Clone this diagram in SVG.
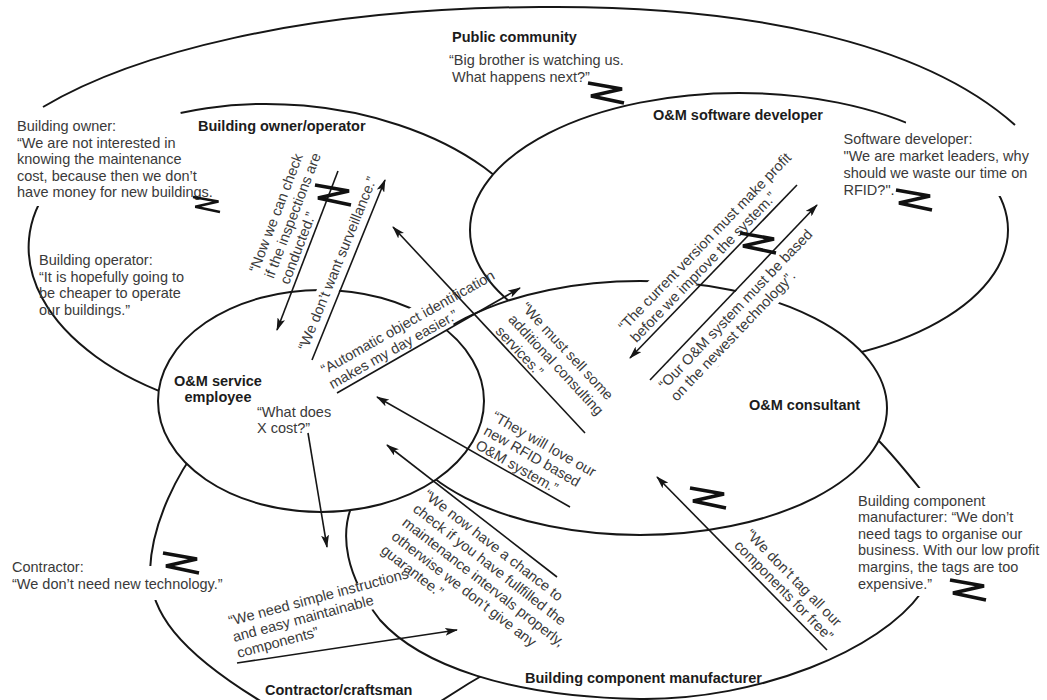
<svg xmlns="http://www.w3.org/2000/svg" width="1047" height="700" viewBox="0 0 1047 700">
<style>
.ell{fill:#fff;stroke:#161616;stroke-width:2}
.open{fill:none;stroke:#161616;stroke-width:2}
text{font-family:"Liberation Sans",Arial,Helvetica,sans-serif;font-size:14.5px}
.q{fill:#3a3a3a}
.lbl{fill:#1c1c1c;font-weight:bold}
.arr{fill:none;stroke:#161616;stroke-width:1.6;marker-end:url(#ah)}
.z{fill:none;stroke:#111;stroke-width:3.6}
</style>
<defs>
<marker id="ah" viewBox="0 0 13 8" refX="12" refY="4" markerWidth="13" markerHeight="8" markerUnits="userSpaceOnUse" orient="auto"><path d="M0,0 L13,4 L0,8 L3,4 Z" fill="#161616"/></marker>
<polyline id="zz" class="z" points="0,0 34,6 3,13 36,20"/>
<mask id="gaps" maskUnits="userSpaceOnUse" x="0" y="0" width="1047" height="700">
<rect width="1047" height="700" fill="#fff"/>
<g fill="#000">
<polygon points="0,92 176,92 183,124 226,124 226,206 0,206"/>
<polygon points="835,138 903,138 908,112 1047,112 1047,196 985,196 985,215 835,215"/>
<polygon points="413.1,348.9 454.1,325.8 435.9,293.6 394.9,316.7"/>
<polygon points="333.7,304 352.5,257.6 333,249.7 314.2,296.1"/>
<polygon points="634.7,348.7 825.6,151 799,125.3 608.1,323"/>
<polygon points="649.3,382.1 837,185.5 865.2,212.4 677.5,409"/>
<polygon points="236.9,663.5 326.7,639.4 322.3,623 418.9,597.1 411.4,569.1 225,619.1"/>
<rect x="0" y="566" width="240" height="34"/>
<rect x="852" y="488" width="195" height="108"/>
</g>
</mask>
</defs>
<rect width="1047" height="700" fill="#fff"/>

<g id="public-community">
<path class="open" d="M43,107 C130,55 300,8 540,7 C740,5 920,40 1015,125"/>
<text class="lbl" x="452" y="42">Public community</text>
<text class="q"><tspan x="449" y="65">“Big brother is watching us.</tspan><tspan x="452" y="82">What happens next?”</tspan></text>
</g>

<g id="building-owner-operator">
<g mask="url(#gaps)"><ellipse class="ell" cx="290" cy="262" rx="262" ry="157" transform="rotate(5 290 262)"/></g>
<text class="lbl" x="198" y="131">Building owner/operator</text>
<text class="q"><tspan x="17" y="131">Building owner:</tspan><tspan x="17" y="147.5">“We are not interested in</tspan><tspan x="17" y="164">knowing the maintenance</tspan><tspan x="17" y="180.5">cost, because then we don’t</tspan><tspan x="17" y="197">have money for new buildings.</tspan></text>
<text class="q"><tspan x="39" y="265">Building operator:</tspan><tspan x="39" y="281.5">“It is hopefully going to</tspan><tspan x="39" y="298">be cheaper to operate</tspan><tspan x="39" y="314.5">our buildings.”</tspan></text>
</g>

<g id="software-developer">
<g mask="url(#gaps)"><ellipse class="ell" cx="739" cy="230" rx="269" ry="137"/></g>
<text class="lbl" x="653" y="120">O&amp;M software developer</text>
<text class="q"><tspan x="843.5" y="143.5">Software developer:</tspan><tspan x="843.5" y="160.5">"We are market leaders, why</tspan><tspan x="843.5" y="177.5">should we waste our time on</tspan><tspan x="843.5" y="194.5">RFID?".</tspan></text>
</g>

<g id="contractor-craftsman">
<g mask="url(#gaps)"><path class="open" d="M200,445 C180,470 152,520 150,570 C150,610 175,650 267,705 M425,712 C445,698 465,685 495,668"/></g>
<text class="lbl" x="265" y="695">Contractor/craftsman</text>
<text class="q"><tspan x="12" y="572">Contractor:</tspan><tspan x="12" y="588.5">“We don’t need new technology.”</tspan></text>
</g>

<g id="component-manufacturer">
<g mask="url(#gaps)"><path class="ell" d="M352,505 C340,535 345,575 380,620 C420,665 510,697 640,699 C760,700 880,650 921,593 C945,560 945,520 921,490 C905,470 893,455 878,440 C800,440 600,450 460,468 C420,475 380,490 352,505 Z"/></g>
<text class="lbl" x="525" y="683">Building component manufacturer</text>
<text class="q"><tspan x="858" y="505.5">Building component</tspan><tspan x="858" y="522.1">manufacturer: “We don’t</tspan><tspan x="858" y="538.7">need tags to organise our</tspan><tspan x="858" y="555.3">business. With our low profit</tspan><tspan x="858" y="571.9">margins, the tags are too</tspan><tspan x="858" y="588.5">expensive.”</tspan></text>
</g>

<g id="consultant">
<g mask="url(#gaps)"><ellipse class="ell" cx="640" cy="408" rx="247" ry="127"/></g>
<text class="lbl" x="749" y="410">O&amp;M consultant</text>
</g>

<g id="service-employee">
<g mask="url(#gaps)"><ellipse class="ell" cx="321" cy="401" rx="163" ry="111"/></g>
<text class="lbl" text-anchor="middle"><tspan x="218" y="386">O&amp;M service</tspan><tspan x="218" y="402">employee</tspan></text>
<text class="q"><tspan x="257" y="417">“What does</tspan><tspan x="257" y="433">X cost?”</tspan></text>
</g>

<g id="connectors">
<path class="arr" d="M338,171 L277,330"/>
<path class="arr" d="M312,360 L385,180"/>
<path class="arr" d="M337,393 L520,288"/>
<path class="arr" d="M585,433 L393,227"/>
<path class="arr" d="M570,507 L377,397"/>
<path class="arr" d="M557,577 L387,445"/>
<path class="arr" d="M308,433 L327,547"/>
<path class="arr" d="M237,663 L457,630"/>
<path class="arr" d="M797,185 L630,358"/>
<path class="arr" d="M650,380 L817,205"/>
<path class="arr" d="M827,650 L657,477"/>
<text class="q" transform="translate(258,273.4) rotate(-69)"><tspan x="0" y="0">“Now we can check</tspan><tspan x="0" dy="16.5">if the inspections are</tspan><tspan x="0" dy="16.5">conducted.”</tspan></text>
<text class="q" transform="translate(307,351.4) rotate(-67.9)">“We don’t want surveillance.”</text>
<text class="q" transform="translate(324.5,374.8) rotate(-29.4)"><tspan x="0" y="0">“Automatic object identification</tspan><tspan x="0" dy="16.5">makes my day easier.”</tspan></text>
<text class="q" transform="translate(520.4,308) rotate(47)"><tspan x="0" y="0">“We must sell some</tspan><tspan x="0" dy="17.5">additional consulting</tspan><tspan x="0" dy="17.5">services.”</tspan></text>
<text class="q" transform="translate(490.9,419.3) rotate(29.7)"><tspan x="0" y="0">“They will love our</tspan><tspan x="0" dy="16.5">new RFID based</tspan><tspan x="0" dy="16.5">O&amp;M system.”</tspan></text>
<text class="q" transform="translate(422.8,496.8) rotate(37.8)"><tspan x="0" y="0">“We now have a chance to</tspan><tspan x="0" dy="17.5">check if you have fullfilled the</tspan><tspan x="0" dy="17.5">maintenance intervals properly,</tspan><tspan x="0" dy="17.5">otherwise we don’t give any</tspan><tspan x="0" dy="17.5">guarantee.”</tspan></text>
<text class="q" transform="translate(230,626) rotate(-15)"><tspan x="0" y="0">“We need simple instructions</tspan><tspan x="0" dy="16.5">and easy maintainable</tspan><tspan x="0" dy="16.5">components”</tspan></text>
<text class="q" transform="translate(624.6,331.9) rotate(-46)"><tspan x="0" y="0">“The current version must make profit</tspan><tspan x="0" dy="16.5">before we improve the system.”</tspan></text>
<text class="q" transform="translate(664.7,390.6) rotate(-46.3)"><tspan x="0" y="0">“Our O&amp;M system must be based</tspan><tspan x="0" dy="16.5">on the newest technology”.</tspan></text>
<text class="q" transform="translate(744.9,535) rotate(45.5)"><tspan x="0" y="0">“We don’t tag all our</tspan><tspan x="0" dy="16">components for free”</tspan></text>
</g>

<g id="conflicts">
<use href="#zz" transform="translate(588,83)"/>
<use href="#zz" transform="translate(193,197) scale(0.75)"/>
<use href="#zz" transform="translate(315,185)"/>
<use href="#zz" transform="translate(896,190)"/>
<use href="#zz" transform="translate(740,233)"/>
<use href="#zz" transform="translate(690,488)"/>
<use href="#zz" transform="translate(950,580)"/>
<use href="#zz" transform="translate(163,553)"/>
</g>
</svg>
